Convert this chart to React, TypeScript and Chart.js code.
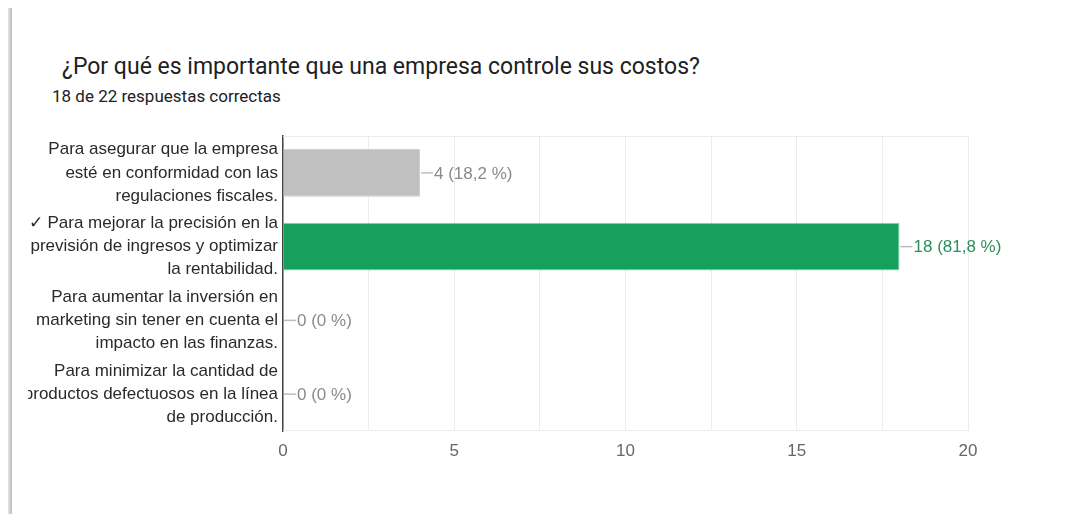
import React, { useEffect, useRef } from "react";
import { Chart, registerables } from "chart.js";

Chart.register(...registerables);

const TITLE = "¿Por qué es importante que una empresa controle sus costos?";
const SUBTITLE = "18 de 22 respuestas correctas";
const CATEGORY_LINES: string[][] = [
  ["Para asegurar que la empresa", "esté en conformidad con las", "regulaciones fiscales."],
  ["✓ Para mejorar la precisión en la", "previsión de ingresos y optimizar", "la rentabilidad."],
  ["Para aumentar la inversión en", "marketing sin tener en cuenta el", "impacto en las finanzas."],
  ["Para minimizar la cantidad de", "productos defectuosos en la línea", "de producción."],
];
const VALUES = [4, 18, 0, 0];
const TOTAL = 22;
const BAR_COLORS = ["#c0c0c0", "#17a05d", "#c0c0c0", "#c0c0c0"];
const LABEL_COLORS = ["#8a8a8a", "#2e8d5e", "#8a8a8a", "#8a8a8a"];
const X_TICKS = [0, 5, 10, 15, 20];

const FONT = "'Liberation Sans', Arial, sans-serif";

const fmtPct = (v: number) => {
  const p = Math.round((v / TOTAL) * 1000) / 10;
  return (Number.isInteger(p) ? String(p) : p.toFixed(1)).replace(".", ",") + " %";
};

const valueLabels = {
  id: "valueLabels",
  afterDatasetsDraw(chart: any) {
    const ctx = chart.ctx;
    const meta = chart.getDatasetMeta(0);
    ctx.save();
    ctx.font = `17px ${FONT}`;
    ctx.textBaseline = "middle";
    meta.data.forEach((bar: any, i: number) => {
      const x = bar.x;
      const y = bar.y;
      ctx.strokeStyle = "#bdbdbd";
      ctx.lineWidth = 1.5;
      ctx.beginPath();
      ctx.moveTo(x + 1, y);
      ctx.lineTo(x + 13, y);
      ctx.stroke();
      ctx.fillStyle = LABEL_COLORS[i];
      ctx.textAlign = "left";
      ctx.fillText(`${VALUES[i]} (${fmtPct(VALUES[i])})`, x + 14, y + 1);
    });
    ctx.restore();
  },
};

const frame = {
  id: "frame",
  beforeDatasetsDraw(chart: any) {
    const { ctx, chartArea } = chart;
    ctx.save();
    ctx.strokeStyle = "#ececec";
    ctx.lineWidth = 1;
    ctx.beginPath();
    ctx.moveTo(chartArea.left, chartArea.top + 0.5);
    ctx.lineTo(chartArea.right, chartArea.top + 0.5);
    ctx.moveTo(chartArea.left, chartArea.bottom - 0.5);
    ctx.lineTo(chartArea.right, chartArea.bottom - 0.5);
    ctx.stroke();
    ctx.restore();
  },
};

function BarChart() {
  const ref = useRef<HTMLCanvasElement>(null);
  useEffect(() => {
    if (!ref.current) return;
    const chart = new Chart(ref.current, {
      type: "bar",
      data: {
        labels: CATEGORY_LINES,
        datasets: [
          {
            data: VALUES,
            backgroundColor: BAR_COLORS,
            borderColor: ["#d0d0d0", "#8fd3b0", "#d0d0d0", "#d0d0d0"],
            borderWidth: 1,
            barPercentage: 0.65,
            categoryPercentage: 1,
          },
        ],
      },
      options: {
        indexAxis: "y",
        animation: false,
        responsive: false,
        maintainAspectRatio: false,
        layout: { padding: { top: 16, right: 100, bottom: 0, left: 0 } },
        plugins: { legend: { display: false }, tooltip: { enabled: false } },
        scales: {
          x: {
            min: 0,
            max: 20,
            afterBuildTicks(axis: any) {
              const t: any[] = [];
              for (let v = 0; v <= 20; v += 2.5) t.push({ value: v });
              axis.ticks = t;
            },
            afterFit(axis: any) {
              axis.height = 40;
              axis.paddingLeft = 0;
              axis.paddingRight = 0;
            },
            ticks: {
              autoSkip: false,
              maxRotation: 0,
              padding: 10,
              color: "#666",
              font: { family: FONT, size: 17 },
              callback: (v: any) => (X_TICKS.includes(Number(v)) ? String(v) : ""),
            },
            grid: { color: "#ececec", drawTicks: false },
            border: { display: false },
          },
          y: {
            afterFit(axis: any) {
              axis.width = 255;
              axis.paddingTop = 0;
              axis.paddingBottom = 0;
            },
            ticks: {
              autoSkip: false,
              padding: 5,
              color: "#2a2a2a",
              font: { family: FONT, size: 17, lineHeight: 1.36 },
            },
            grid: { display: false, drawTicks: false },
            border: { display: true, color: "#444", width: 1.5 },
          },
        },
      },
      plugins: [frame, valueLabels],
    });
    return () => chart.destroy();
  }, []);
  return <canvas ref={ref} width={1040} height={351} style={{ position: "absolute", left: 28, top: 120 }} />;
}

export default function App() {
  return (
    <div style={{ position: "relative", width: 1076, height: 522, background: "#fff", overflow: "hidden", margin: -8 }}>
      <div
        style={{
          position: "absolute",
          left: 12,
          top: 6,
          width: 1100,
          height: 600,
          background: "#fff",
          boxShadow: "-3px -1px 4px rgba(0,0,0,0.28)",
        }}
      />
      <div
        style={{
          position: "absolute",
          left: 62,
          top: 53,
          fontFamily: "Roboto, sans-serif",
          fontSize: 23,
          color: "#202124",
          whiteSpace: "nowrap",
        }}
      >
        {TITLE}
      </div>
      <div
        style={{
          position: "absolute",
          left: 52,
          top: 86,
          fontFamily: "Roboto, sans-serif",
          fontSize: 17,
          color: "#202124",
          whiteSpace: "nowrap",
        }}
      >
        {SUBTITLE}
      </div>
      <BarChart />
    </div>
  );
}
